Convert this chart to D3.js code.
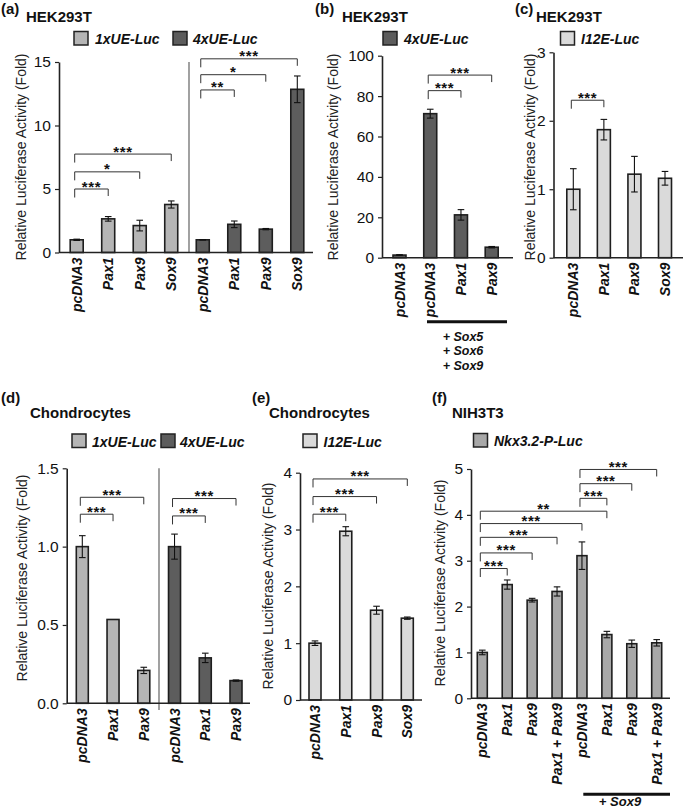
<!DOCTYPE html>
<html><head><meta charset="utf-8">
<script src="https://cdn.jsdelivr.net/npm/d3@7"></script>
<style>
html,body{margin:0;padding:0;background:#fff;}
svg{display:block;font-family:"Liberation Sans",Arial,Helvetica,sans-serif;}
</style></head>
<body>
<svg id="chart" width="685" height="810"></svg>
<script>
// ---------- DATA ----------
// Panel (a) HEK293T
const aLabels = ["pcDNA3","Pax1","Pax9","Sox9","pcDNA3","Pax1","Pax9","Sox9"];
const aGroups = [0,0,0,0,1,1,1,1];
const aValues = [1.0, 2.65, 2.12, 3.78, 1.0, 2.22, 1.84, 12.85];
const aErrors = [0.05, 0.18, 0.42, 0.28, 0.02, 0.26, 0.05, 1.05];
const aTicks  = [0,5,10,15];
const aLegend = ["1xUE-Luc","4xUE-Luc"];
const aSig = [[0,1,5.0,"***"],[0,2,6.35,"*"],[0,3,7.75,"***"],[4,5,12.8,"**"],[4,6,14.0,"*"],[4,7,15.25,"***"]];

// Panel (b) HEK293T
const bLabels = ["pcDNA3","pcDNA3","Pax1","Pax9"];
const bGroups = [1,1,1,1];
const bValues = [1.3, 71.3, 21.2, 5.2];
const bErrors = [0.2, 2.2, 2.6, 0.35];
const bTicks  = [0,20,40,60,80,100];
const bLegend = ["4xUE-Luc"];
const bSig = [[1,2,82.7,"***"],[1,3,90.4,"***"]];
const bGroupLabels = ["+ Sox5","+ Sox6","+ Sox9"];

// Panel (c) HEK293T
const cLabels = ["pcDNA3","Pax1","Pax9","Sox9"];
const cGroups = [2,2,2,2];
const cValues = [1.0, 1.87, 1.22, 1.16];
const cErrors = [0.3, 0.15, 0.26, 0.1];
const cTicks  = [0,1,2,3];
const cLegend = ["I12E-Luc"];
const cSig = [[0,1,2.30,"***"]];

// Panel (d) Chondrocytes
const dLabels = ["pcDNA3","Pax1","Pax9","pcDNA3","Pax1","Pax9"];
const dGroups = [0,0,0,1,1,1];
const dValues = [1.0, 0.535, 0.21, 1.0, 0.29, 0.145];
const dErrors = [0.07, 0, 0.02, 0.08, 0.03, 0.004];
const dTicks  = [0,0.5,1.0,1.5];
const dLegend = ["1xUE-Luc","4xUE-Luc"];
const dSig = [[0,1,1.207,"***"],[0,2,1.315,"***"],[3,4,1.196,"***"],[3,5,1.307,"***"]];

// Panel (e) Chondrocytes
const eLabels = ["pcDNA3","Pax1","Pax9","Sox9"];
const eGroups = [2,2,2,2];
const eValues = [1.0, 2.97, 1.58, 1.44];
const eErrors = [0.04, 0.08, 0.07, 0.02];
const eTicks  = [0,1,2,3,4];
const eLegend = ["I12E-Luc"];
const eSig = [[0,1,3.27,"***"],[0,2,3.58,"***"],[0,3,3.89,"***"]];

// Panel (f) NIH3T3
const fLabels = ["pcDNA3","Pax1","Pax9","Pax1 + Pax9","pcDNA3","Pax1","Pax9","Pax1 + Pax9"];
const fGroups = [3,3,3,3,3,3,3,3];
const fValues = [1.0, 2.48, 2.14, 2.33, 3.11, 1.39, 1.19, 1.21];
const fErrors = [0.05, 0.1, 0.04, 0.1, 0.3, 0.07, 0.08, 0.07];
const fTicks  = [0,1,2,3,4,5];
const fLegend = ["Nkx3.2-P-Luc"];
const fSig = [[0,1,2.83,"***"],[0,2,3.17,"***"],[0,3,3.51,"***"],[0,4,3.81,"***"],[0,5,4.08,"**"],[4,5,4.36,"***"],[4,6,4.68,"***"],[4,7,4.99,"***"]];
const fGroupLabels = ["+ Sox9"];

const yTitle = "Relative Luciferase Activity (Fold)";
// fill colours by series: 1xUE, 4xUE, I12E, Nkx3.2
const seriesColors = ["#b5b5b5","#5d5d5d","#dadada","#a8a8a8"];

// ---------- DRAW ----------
const FONT = '"Liberation Sans",Arial,Helvetica,sans-serif';
const svg = d3.select("#chart");
svg.append("rect").attr("width",685).attr("height",810).attr("fill","#fff");

function title(x1, tag, x2, name, yTag, yName){
  svg.append("text").attr("x",x1).attr("y",yTag).attr("font-size",15).attr("font-weight","bold").attr("fill","#111").text(tag);
  svg.append("text").attr("x",x2).attr("y",yName).attr("font-size",15).attr("font-weight","bold").attr("fill","#111").text(name);
}

function legend(items, seriesIdx, positions, y){
  items.forEach((t,i)=>{
    const [sx, tx] = positions[i];
    svg.append("rect").attr("x",sx).attr("y",y).attr("width",14).attr("height",13.5)
      .attr("fill",seriesColors[seriesIdx[i]]).attr("stroke","#222").attr("stroke-width",1.5);
    svg.append("text").attr("x",tx).attr("y",y+12.5).attr("font-size",14).attr("font-weight","bold")
      .attr("font-style","italic").attr("fill","#111").text(t);
  });
}

function panel(cfg){
  const g = svg.append("g");
  const y = d3.scaleLinear().domain([0, cfg.max]).range([cfg.y0, cfg.yTop]);
  const idx = d3.range(cfg.labels.length);
  const x = d3.scalePoint().domain(idx).range([cfg.c0, cfg.c1]);

  if (cfg.divX){
    g.append("line").attr("x1",cfg.divX).attr("x2",cfg.divX).attr("y1",cfg.yTop).attr("y2",cfg.divY1 || cfg.y0)
      .attr("stroke","#555").attr("stroke-width",1.1);
  }

  const ax = g.append("g").attr("transform",`translate(${cfg.x0},0)`)
    .call(d3.axisLeft(y).tickValues(cfg.ticks).tickSize(4).tickSizeOuter(0).tickPadding(4)
      .tickFormat(cfg.fmt || d3.format("d")));
  ax.select(".domain").attr("stroke","#222").attr("stroke-width",1.6);
  ax.selectAll(".tick line").attr("stroke","#222").attr("stroke-width",1.2);
  ax.selectAll(".tick text").attr("font-size",15.5).attr("font-family",FONT).attr("fill","#111");

  g.selectAll("rect.bar").data(idx).join("rect").attr("class","bar")
    .attr("x",i=>x(i)-cfg.barW/2).attr("width",cfg.barW)
    .attr("y",i=>y(cfg.values[i])).attr("height",i=>cfg.y0 - y(cfg.values[i]))
    .attr("fill",i=>seriesColors[cfg.groups[i]]).attr("stroke","#1e1e1e").attr("stroke-width",1.6);

  g.append("line").attr("x1",cfg.x0).attr("x2",cfg.x1).attr("y1",cfg.y0).attr("y2",cfg.y0)
    .attr("stroke","#222").attr("stroke-width",1.6);

  idx.forEach(i=>{
    const e = cfg.errors[i]; if (!e) return;
    const cx = x(i), v = cfg.values[i];
    const yt = y(v+e), yb = y(v-e), cw = 3.3;
    g.append("line").attr("x1",cx).attr("x2",cx).attr("y1",yt).attr("y2",yb).attr("stroke","#111").attr("stroke-width",1.1);
    g.append("line").attr("x1",cx-cw).attr("x2",cx+cw).attr("y1",yt).attr("y2",yt).attr("stroke","#111").attr("stroke-width",1.1);
    g.append("line").attr("x1",cx-cw).attr("x2",cx+cw).attr("y1",yb).attr("y2",yb).attr("stroke","#111").attr("stroke-width",1.1);
  });

  cfg.sig.forEach(([a,b,lvl,lab])=>{
    const yy = y(lvl), xa = x(a)-2, xb = x(b);
    g.append("path").attr("d",`M${xa},${yy+8.5}V${yy}H${xb}V${yy+7}`)
      .attr("fill","none").attr("stroke","#333").attr("stroke-width",1);
    g.append("text").attr("x",(xa+xb)/2).attr("y",yy+2.5).attr("text-anchor","middle")
      .attr("font-size",15).attr("font-weight","bold").attr("letter-spacing","0.6px").attr("fill","#111").text(lab);
  });

  idx.forEach(i=>{
    g.append("text").attr("transform",`translate(${x(i)},${cfg.y0+5}) rotate(-90)`)
      .attr("text-anchor","end").attr("dy","0.36em").attr("font-size",14).attr("font-weight","bold")
      .attr("font-style","italic").attr("fill","#111").text(cfg.labels[i]);
  });

  g.append("text").attr("transform",`translate(${cfg.yLabelX},${cfg.yLabelY}) rotate(-90)`)
    .attr("text-anchor","middle").attr("dy","0.35em").attr("font-size",14).attr("fill","#222").text(yTitle);
}

// (a)
title(1,"(a)",26,"HEK293T",14,22);
legend(aLegend,[0,1],[[74,95],[173,193]],31.5);
panel({labels:aLabels,groups:aGroups,values:aValues,errors:aErrors,ticks:aTicks,sig:aSig,max:15,
  x0:59,x1:313,y0:252.5,yTop:62,c0:76.7,c1:297.3,barW:13,yLabelX:21,yLabelY:157,divX:189});

// (b)
title(315,"(b)",342,"HEK293T",14,22);
legend(bLegend,[1],[[383,404]],31.5);
panel({labels:bLabels,groups:bGroups,values:bValues,errors:bErrors,ticks:bTicks,sig:bSig,max:100,
  x0:382,x1:513,y0:257.7,yTop:55.7,c0:399.5,c1:491.7,barW:13,yLabelX:333,yLabelY:157});
svg.append("line").attr("x1",427).attr("x2",507).attr("y1",321.7).attr("y2",321.7).attr("stroke","#111").attr("stroke-width",3);
bGroupLabels.forEach((t,i)=>{
  svg.append("text").attr("x",463).attr("y",340.5+i*14.5).attr("text-anchor","middle").attr("font-size",12.5)
    .attr("font-weight","bold").attr("font-style","italic").attr("fill","#111").text(t);
});

// (c)
title(515,"(c)",536,"HEK293T",14,22);
legend(cLegend,[2],[[560.5,581]],31.5);
panel({labels:cLabels,groups:cGroups,values:cValues,errors:cErrors,ticks:cTicks,sig:cSig,max:3,
  x0:553.5,x1:683,y0:257.7,yTop:52.3,c0:573.3,c1:665,barW:13,yLabelX:530,yLabelY:157});

// (d)
title(1,"(d)",30,"Chondrocytes",403,418);
legend(dLegend,[0,1],[[72,92],[161,180]],434);
panel({labels:dLabels,groups:dGroups,values:dValues,errors:dErrors,ticks:dTicks,sig:dSig,max:1.5,fmt:d3.format(".1f"),
  x0:66.7,x1:250,y0:703.3,yTop:468.3,c0:82.3,c1:236,barW:12,yLabelX:22,yLabelY:578,divX:159,divY1:710});

// (e)
title(252,"(e)",269,"Chondrocytes",403,418);
legend(eLegend,[2],[[303,323.5]],434);
panel({labels:eLabels,groups:eGroups,values:eValues,errors:eErrors,ticks:eTicks,sig:eSig,max:4,
  x0:300,x1:422,y0:700,yTop:472.7,c0:315,c1:407.3,barW:12,yLabelX:268,yLabelY:586});

// (f)
title(432,"(f)",452,"NIH3T3",403,418);
legend(fLegend,[3],[[473.5,494]],433.5);
panel({labels:fLabels,groups:fGroups,values:fValues,errors:fErrors,ticks:fTicks,sig:fSig,max:5,
  x0:471,x1:670,y0:698.3,yTop:469,c0:482.3,c1:656.7,barW:10,yLabelX:440,yLabelY:583});
svg.append("line").attr("x1",583.3).attr("x2",670).attr("y1",794.3).attr("y2",794.3).attr("stroke","#111").attr("stroke-width",3);
fGroupLabels.forEach((t,i)=>{
  svg.append("text").attr("x",620).attr("y",806).attr("text-anchor","middle").attr("font-size",13)
    .attr("font-weight","bold").attr("font-style","italic").attr("fill","#111").text(t);
});
</script>
</body></html>
